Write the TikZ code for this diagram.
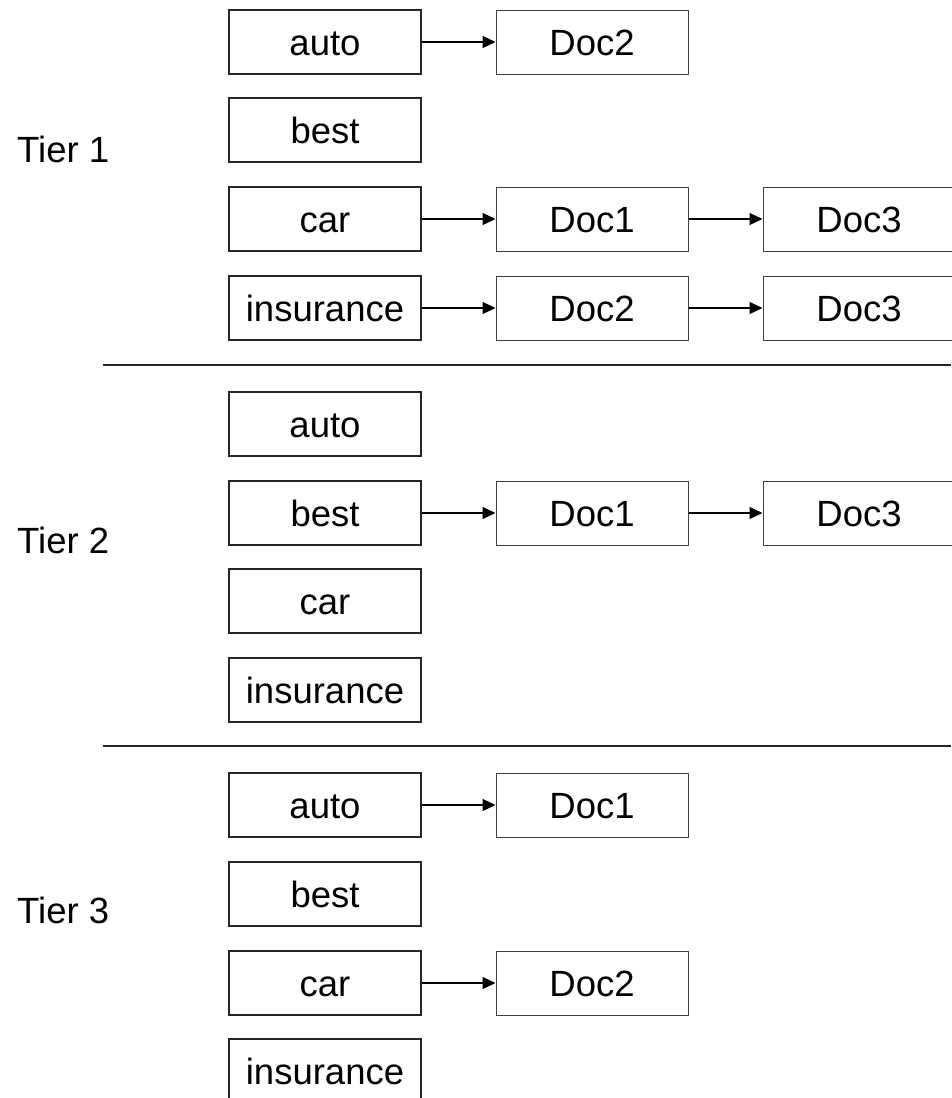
\documentclass[tikz,border=0pt]{standalone}
\usepackage{fontspec}
\setmainfont{Liberation Sans}
\usetikzlibrary{arrows.meta}
\begin{document}
\begin{tikzpicture}[x=1pt,y=-1pt,
  base/.style={inner sep=0pt, text height=26pt, text depth=0pt,
    minimum width=192pt, minimum height=64pt, font=\fontsize{36.5}{40}\selectfont},
  term/.style={base, draw=black!85, line width=1.8pt},
  doc/.style={base, draw=black!75, line width=1pt},
  tier/.style={inner sep=0pt, anchor=west, text height=26pt, text depth=0pt, font=\fontsize{36.5}{40}\selectfont},
  link/.style={line width=1.2pt, -{Triangle[length=13pt,width=12pt]}},
  sep/.style={line width=2.2pt, black!85}]
\useasboundingbox (0,0) rectangle (951,1098);
\fill[white] (0,0) rectangle (951,1098);
% Tier 1
\node[tier] (t1) at (17,149) {Tier 1};
\node[term] (a1) at (325,42) {auto};
\node[term] (b1) at (325,130) {best};
\node[term] (c1) at (325,219) {car};
\node[term] (i1) at (325,308) {insurance};
\node[doc] (a1d2) at (592,42) {Doc2};
\node[doc] (c1d1) at (592,219) {Doc1};
\node[doc] (c1d3) at (859,219) {Doc3};
\node[doc] (i1d2) at (592,308) {Doc2};
\node[doc] (i1d3) at (859,308) {Doc3};
\draw[link] (a1) -- (a1d2);
\draw[link] (c1) -- (c1d1);
\draw[link] (c1d1) -- (c1d3);
\draw[link] (i1) -- (i1d2);
\draw[link] (i1d2) -- (i1d3);
\coordinate (s1a) at (103,365);
\coordinate (s1b) at (951,365);
\draw[sep] (s1a) -- (s1b);
% Tier 2
\node[tier] (t2) at (17,540) {Tier 2};
\node[term] (a2) at (325,424) {auto};
\node[term] (b2) at (325,513) {best};
\node[term] (c2) at (325,601) {car};
\node[term] (i2) at (325,690) {insurance};
\node[doc] (b2d1) at (592,513) {Doc1};
\node[doc] (b2d3) at (859,513) {Doc3};
\draw[link] (b2) -- (b2d1);
\draw[link] (b2d1) -- (b2d3);
\coordinate (s2a) at (103,746);
\coordinate (s2b) at (951,746);
\draw[sep] (s2a) -- (s2b);
% Tier 3
\node[tier] (t3) at (17,910) {Tier 3};
\node[term] (a3) at (325,805) {auto};
\node[term] (b3) at (325,894) {best};
\node[term] (c3) at (325,983) {car};
\node[term] (i3) at (325,1071) {insurance};
\node[doc] (a3d1) at (592,805) {Doc1};
\node[doc] (c3d2) at (592,983) {Doc2};
\draw[link] (a3) -- (a3d1);
\draw[link] (c3) -- (c3d2);
\end{tikzpicture}
\end{document}
